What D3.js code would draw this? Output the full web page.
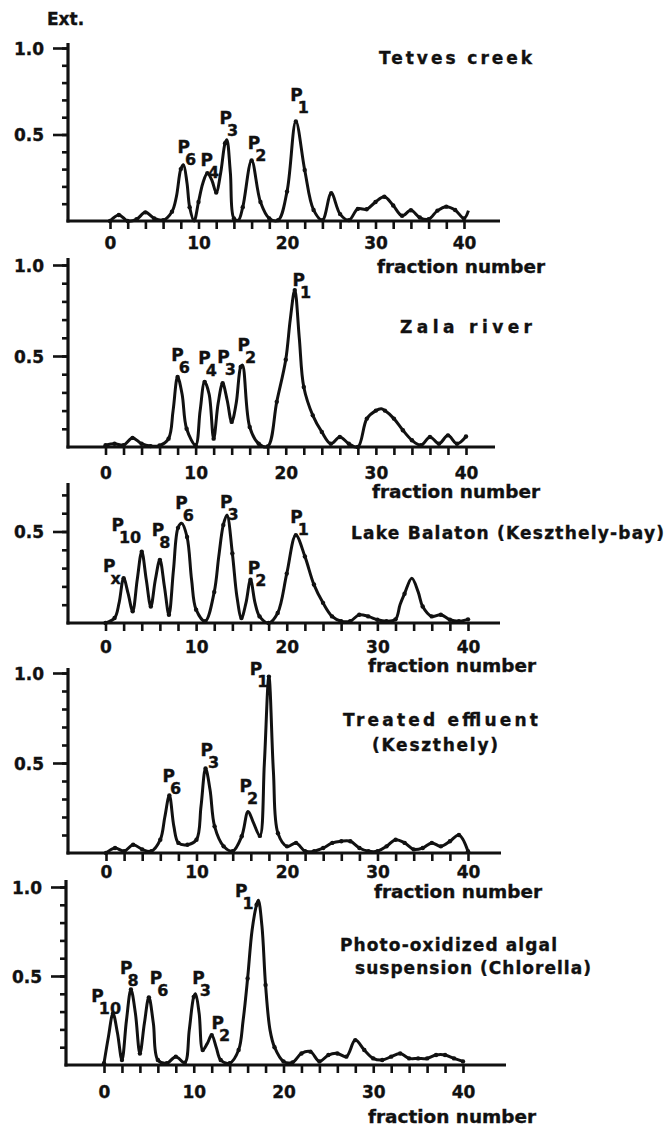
<!DOCTYPE html>
<html>
<head>
<meta charset="utf-8">
<script src="https://cdn.jsdelivr.net/npm/d3@7"></script>
<style>
body { margin: 0; background: #fff; }
text { font-family: "DejaVu Sans", sans-serif; font-weight: bold; fill: #111; stroke: #111; stroke-width: 0.35px; }
</style>
</head>
<body>
<svg id="chart" width="667" height="1128"></svg>
<script>
// extinction, by fraction number
var tetvesFr = [0,1,2,3,4,5,6,7,7.5,8,8.3,8.7,9,9.5,10,10.5,11,11.5,12,12.5,13,13.2,13.6,14,14.5,15,16,17,18,19,20,21,22,23,24,25,26,27,28,29,30,31,32,33,34,35,36,37,38,39,40,40.5];
var tetvesExt = [0,0.035,0,0.01,0.05,0.015,0.005,0.054,0.14,0.3,0.325,0.22,0.08,0,0.11,0.22,0.276,0.237,0.165,0.276,0.45,0.47,0.28,0.015,0.005,0.08,0.35,0.11,0.015,0.005,0.17,0.575,0.295,0.064,0.005,0.16,0.04,0.005,0.07,0.068,0.11,0.14,0.09,0.03,0.062,0.02,0.01,0.06,0.083,0.064,0.015,0.06];

var zalaFr = [0,1,2,3,4,5,6,7,7.5,8,8.5,9,10,10.5,11,11.5,12,12.5,13,13.5,14,14.5,15,15.2,16,17,18,19,20,20.5,21,21.5,22,23,24,25,26,27,28,29,30,30.6,31,32,33,34,35,36,37,38,39,40];
var zalaExt = [0.01,0.018,0.01,0.05,0.018,0.005,0.008,0.046,0.2,0.385,0.29,0.1,0.01,0.2,0.358,0.29,0.046,0.24,0.35,0.257,0.138,0.24,0.44,0.45,0.11,0.018,0.003,0.248,0.48,0.7,0.862,0.6,0.33,0.174,0.083,0.018,0.055,0.018,0,0.156,0.2,0.21,0.2,0.156,0.092,0.037,0.01,0.055,0.018,0.064,0.018,0.058];

var balatonFr = [0,1,1.5,2,2.5,3,3.5,4,4.5,5,5.5,6,6.5,7,7.5,8,8.4,9,9.5,10,11,12,12.5,13,13.4,14,14.5,15,15.5,16,16.5,17,18,19,20,21,22,23,24,25,26,27,28,29,30,31,32,32.5,33,33.8,34.5,35,36,37,38,39,40];
var balatonExt = [0,0.027,0.11,0.245,0.16,0.064,0.236,0.39,0.236,0.09,0.236,0.345,0.2,0.045,0.29,0.52,0.545,0.47,0.236,0.073,0.01,0.17,0.364,0.536,0.59,0.38,0.145,0.027,0.11,0.236,0.11,0.036,0,0.055,0.27,0.48,0.364,0.21,0.11,0.036,0.01,0.01,0.045,0.036,0.018,0.01,0.02,0.1,0.16,0.245,0.17,0.09,0.036,0.045,0.018,0.01,0.02];

var effluentFr = [0,1,2,3,4,5,6,6.5,7,7.5,8,9,10,10.5,11,11.5,12,13,14,15,15.7,16.3,17,17.5,18,18.5,19,20,21,22,23,24,25,26,27,28,29,30,31,32,33,34,35,36,37,38,39,40];
var effluentExt = [0,0.028,0.01,0.046,0.02,0.01,0.074,0.2,0.32,0.148,0.056,0.046,0.074,0.26,0.47,0.35,0.148,0.037,0.01,0.093,0.23,0.167,0.095,0.5,0.98,0.45,0.11,0.037,0.056,0.01,0.01,0.028,0.056,0.065,0.065,0.028,0.01,0.01,0.037,0.074,0.056,0.02,0.028,0.056,0.037,0.065,0.1,0.01];

var algalFr = [0,0.5,1,1.5,2,2.5,3,3.5,4,4.5,5,5.5,6,7,8,9,9.5,10,10.2,10.6,11,11.5,12,12.5,13,14,15,15.5,16,16.5,17,17.2,17.6,18,18.5,19,20,21,22,23,24,25,26,27,28,29,30,31,32,33,34,35,36,37,38,39,40];
var algalExt = [0.01,0.16,0.29,0.18,0.028,0.25,0.424,0.29,0.065,0.234,0.38,0.234,0.028,0.01,0.047,0.013,0.196,0.383,0.4,0.29,0.084,0.12,0.168,0.1,0.028,0.01,0.084,0.25,0.486,0.757,0.9,0.925,0.78,0.45,0.196,0.1,0.02,0.015,0.065,0.075,0.02,0.056,0.065,0.047,0.14,0.084,0.037,0.028,0.047,0.065,0.037,0.037,0.037,0.056,0.056,0.037,0.02];

// peak labels: where the "P" sits (fraction, extinction) and its index
var tetvesPeakF = [8.25, 10.85, 13.0, 16.2, 21.0];
var tetvesPeakV = [0.43, 0.35, 0.595, 0.45, 0.73];
var tetvesPeakSub = ["6", "4", "3", "2", "1"];

var zalaPeakF = [7.9, 10.9, 13.0, 15.25, 21.35];
var zalaPeakV = [0.505, 0.49, 0.495, 0.56, 0.92];
var zalaPeakSub = ["6", "4", "3", "2", "1"];

var balatonPeakF = [0.33, 1.27, 5.7, 8.3, 13.25, 16.3, 21.0];
var balatonPeakV = [0.31, 0.535, 0.51, 0.655, 0.66, 0.30, 0.58];
var balatonPeakSub = ["x", "10", "8", "6", "3", "2", "1"];

var effluentPeakF = [6.85, 11.05, 15.35, 16.5];
var effluentPeakV = [0.43, 0.57, 0.37, 1.02];
var effluentPeakSub = ["6", "3", "2", "1"];

var algalPeakF = [-0.8, 2.4, 5.7, 10.45, 12.6, 15.2];
var algalPeakV = [0.39, 0.545, 0.49, 0.49, 0.235, 0.98];
var algalPeakSub = ["10", "8", "6", "3", "2", "1"];

var titles = [
  ["Tetves creek"],
  ["Zala river"],
  ["Lake Balaton (Keszthely-bay)"],
  ["Treated effluent", "(Keszthely)"],
  ["Photo-oxidized algal", "suspension (Chlorella)"]
];

var xTickValues = d3.range(0, 41, 2);
var xLabelValues = [0, 10, 20, 30, 40];
var yLabelValues = [0.5, 1.0];

var panels = [
  { fr: tetvesFr, ext: tetvesExt, pf: tetvesPeakF, pv: tetvesPeakV, ps: tetvesPeakSub },
  { fr: zalaFr, ext: zalaExt, pf: zalaPeakF, pv: zalaPeakV, ps: zalaPeakSub },
  { fr: balatonFr, ext: balatonExt, pf: balatonPeakF, pv: balatonPeakV, ps: balatonPeakSub },
  { fr: effluentFr, ext: effluentExt, pf: effluentPeakF, pv: effluentPeakV, ps: effluentPeakSub },
  { fr: algalFr, ext: algalExt, pf: algalPeakF, pv: algalPeakV, ps: algalPeakSub }
];

// pixel layout of the five stacked plots
var layout = [
  { top: 43, y1: 48, base: 221, x0: 110, x40: 464, left: 68, right: 500, maxTick: 1.0, labY: 249, fnX: 377, fnY: 273,
    tl: [{ x: 379, y: 64, w: 153 }] },
  { top: 258, y1: 265, base: 447, x0: 105.5, x40: 466, left: 68, right: 495, maxTick: 1.0, labY: 479, fnX: 372, fnY: 498,
    tl: [{ x: 400, y: 333, w: 132 }] },
  { top: 483, y1: 440, base: 623, x0: 105.5, x40: 468, left: 68, right: 500, maxTick: 0.7, labY: 653, fnX: 368, fnY: 672,
    tl: [{ x: 351, y: 539, w: 313 }] },
  { top: 668, y1: 673, base: 853, x0: 106, x40: 468, left: 68, right: 501, maxTick: 1.0, labY: 878, fnX: 374, fnY: 898,
    tl: [{ x: 343, y: 726, w: 195 }, { x: 372, y: 751, w: 126 }] },
  { top: 880, y1: 887, base: 1065, x0: 104, x40: 463, left: 66, right: 506, maxTick: 1.0, labY: 1098, fnX: 368, fnY: 1123,
    tl: [{ x: 340, y: 951, w: 217 }, { x: 355, y: 974, w: 236 }] }
];

var svg = d3.select("#chart");

svg.append("text")
    .attr("x", 47)
    .attr("y", 25)
    .style("font-size", "17px")
    .text("Ext.");

panels.forEach(function(p, i) {
    var L = layout[i];
    var x = d3.scaleLinear().domain([0, 40]).range([L.x0, L.x40]);
    var y = d3.scaleLinear().domain([0, 1]).range([L.base, L.y1]);
    var g = svg.append("g");

    // axis lines
    g.append("line")
        .attr("x1", L.left).attr("x2", L.left)
        .attr("y1", L.top).attr("y2", L.base + 1.5)
        .attr("stroke", "#111").attr("stroke-width", 3.2);
    g.append("line")
        .attr("x1", L.left - 1.5).attr("x2", L.right)
        .attr("y1", L.base).attr("y2", L.base)
        .attr("stroke", "#111").attr("stroke-width", 3.2);

    // y minor ticks
    var minor = d3.range(1, Math.round(L.maxTick * 10) + 1).map(function(k) { return k / 10; });
    var yMinor = g.append("g")
        .attr("transform", "translate(" + L.left + ",0)")
        .call(d3.axisLeft(y).tickValues(minor).tickSize(6).tickFormat(""));
    var yMajor = g.append("g")
        .attr("transform", "translate(" + L.left + ",0)")
        .call(d3.axisLeft(y)
            .tickValues(yLabelValues.filter(function(v) { return v <= L.maxTick; }))
            .tickSize(15).tickPadding(9).tickFormat(d3.format(".1f")));

    // x ticks and labels
    var xMinor = g.append("g")
        .attr("transform", "translate(0," + L.base + ")")
        .call(d3.axisBottom(x).tickValues(xTickValues).tickSize(8).tickFormat(""));
    var xLab = g.append("g")
        .attr("transform", "translate(0," + L.base + ")")
        .call(d3.axisBottom(x).tickValues(xLabelValues).tickSize(0));
    xLab.selectAll("text").attr("y", L.labY - L.base).attr("dy", 0);

    yMinor.selectAll("text").remove();
    xMinor.selectAll("text").remove();
    xLab.selectAll("line").remove();

    [yMinor, yMajor, xMinor, xLab].forEach(function(a) {
        a.select(".domain").remove();
        a.selectAll("line").attr("stroke", "#111").attr("stroke-width", 2.6);
        a.selectAll("text")
            .attr("fill", "#111")
            .style("font-family", "'DejaVu Sans', sans-serif")
            .style("font-weight", "bold")
            .style("font-size", "17px");
    });
    yMajor.selectAll("text").attr("dy", "0.36em");

    g.append("text")
        .attr("x", L.fnX).attr("y", L.fnY)
        .attr("textLength", 168).attr("lengthAdjust", "spacingAndGlyphs")
        .style("font-size", "17px")
        .text("fraction number");

    // panel title
    titles[i].forEach(function(t, k) {
        var pos = L.tl[k];
        g.append("text")
            .attr("x", pos.x).attr("y", pos.y)
            .attr("textLength", pos.w).attr("lengthAdjust", "spacing")
            .style("font-size", "17px")
            .text(t);
    });

    // elution curve
    var pts = p.fr.map(function(f, k) { return [f, p.ext[k]]; });
    var line = d3.line()
        .x(function(d) { return x(d[0]); })
        .y(function(d) { return y(d[1]); })
        .curve(d3.curveCatmullRom.alpha(0.5));
    g.append("path")
        .datum(pts)
        .attr("d", line)
        .attr("fill", "none")
        .attr("stroke", "#111")
        .attr("stroke-width", 3)
        .attr("stroke-linejoin", "round");

    g.selectAll("circle.pt")
        .data(pts.filter(function(d) { return d[0] % 1 === 0; }))
        .enter().append("circle")
        .attr("class", "pt")
        .attr("cx", function(d) { return x(d[0]); })
        .attr("cy", function(d) { return y(d[1]); })
        .attr("r", 2.2)
        .attr("fill", "#111");

    // peak labels
    p.pf.forEach(function(f, k) {
        var t = g.append("text")
            .attr("x", x(f) - 5.5)
            .attr("y", y(p.pv[k]) + 6)
            .style("font-size", "17px")
            .text("P");
        t.append("tspan")
            .attr("dx", -5)
            .attr("dy", 12)
            .style("font-size", "16px")
            .text(p.ps[k]);
    });
});
</script>
</body>
</html>
